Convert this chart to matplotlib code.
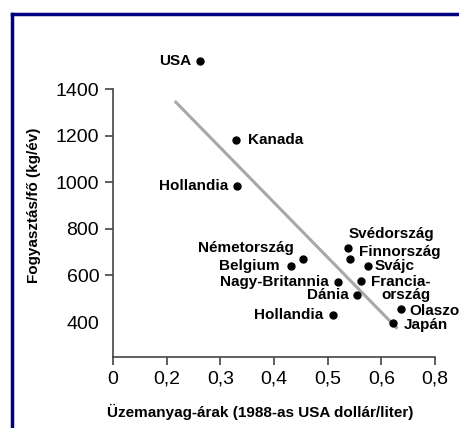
import numpy as np
import matplotlib.pyplot as plt
from matplotlib.lines import Line2D

plt.rcParams['font.family'] = ['Liberation Sans', 'DejaVu Sans']

# adatok
countries = ["USA", "Kanada", "Hollandia", "Németország", "Belgium", "Nagy-Britannia",
             "Dánia", "Hollandia", "Svédország", "Finnország", "Svájc", "Francia-\nország",
             "Olaszo", "Japán"]
price = [0.262, 0.329, 0.331, 0.454, 0.432, 0.520, 0.555, 0.510, 0.538, 0.542, 0.576,
         0.563, 0.636, 0.621]
consumption = [1520, 1181, 983, 669, 639, 574, 518, 432, 720, 669, 639, 578, 458, 398]
trend_x = [0.217, 0.628]
trend_y = [1344, 376]

xticks = [0.1, 0.2, 0.3, 0.4, 0.5, 0.6, 0.7]
xticklabels = ["0", "0,2", "0,3", "0,4", "0,5", "0,6", "0,8"]
yticks = [400, 600, 800, 1000, 1200, 1400]

# címke elhelyezés: (dx, dy) pontban, vízszintes igazítás
label_pos = {
    0: (-6.5, 0, 'right'), 1: (9, 0, 'left'), 2: (-6.5, 0, 'right'),
    3: (-6.5, 8, 'right'), 4: (-8.5, 0, 'right'), 5: (-7, 0, 'right'),
    6: (-6, 0, 'right'), 7: (-7, 0, 'right'), 8: (0.5, 10, 'left'),
    9: (6, 5, 'left'), 10: (4.5, 0, 'left'), 11: (7, -6, 'left'),
    12: (6.5, -1.5, 'left'), 13: (8, -1.5, 'left'),
}

fig = plt.figure(figsize=(4.6, 4.28), dpi=100)
ax = fig.add_axes([0.2457, 0.1659, 0.70, 0.7348])

ax.plot(trend_x, trend_y, color='#a8a8a8', lw=2.2, zorder=1)
ax.plot(price, consumption, 'o', color='black', ms=5, zorder=2)

for i, name in enumerate(countries):
    dx, dy, ha = label_pos[i]
    ax.annotate(name, (price[i], consumption[i]), xytext=(dx, dy),
                textcoords='offset points', ha=ha, va='center',
                multialignment='right', fontsize=11, fontweight='bold',
                linespacing=0.9)

ax.set_xlim(0.1, 0.7)
ax.set_ylim(250, 1600)
ax.set_xticks(xticks)
ax.set_xticklabels(xticklabels)
ax.set_yticks(yticks)
ax.yaxis.get_major_ticks()[0].tick1line.set_visible(False)

for s in ['top', 'right']:
    ax.spines[s].set_visible(False)
ax.spines['left'].set_bounds(250, 1400)
for s in ['left', 'bottom']:
    ax.spines[s].set_color('#444444')
    ax.spines[s].set_linewidth(1.2)
ax.tick_params(axis='both', labelsize=14, color='#444444', width=1.2, length=6, pad=4)

ax.set_xlabel("Üzemanyag-árak (1988-as USA dollár/liter)", fontsize=11, fontweight='bold')
ax.set_ylabel("Fogyasztás/fő (kg/év)", fontsize=11, fontweight='bold')
ax.xaxis.set_label_coords(0.457, -0.15)
ax.yaxis.set_label_coords(-0.224, 0.483)

# kék keret
fig.add_artist(Line2D([0.026, 0.026], [0, 0.968], color='#000080', lw=2.5))
fig.add_artist(Line2D([0.026, 1.0], [0.968, 0.968], color='#000080', lw=2.5))

fig.savefig("out.png", dpi=100)
